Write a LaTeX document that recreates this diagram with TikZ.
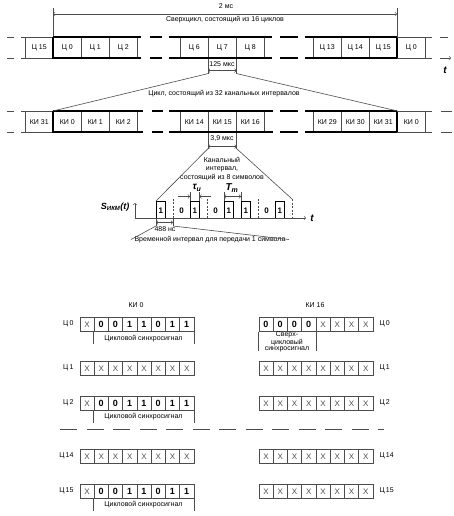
\documentclass[tikz,border=0pt]{standalone}
\usepackage{fontspec}
\setmainfont{Liberation Sans}
\tikzset{
    thinline/.style={draw=black!70, line width=0.6pt},
    thickline/.style={draw=black, line width=1.2pt},
    slot/.style={draw=black!70, line width=0.6pt, minimum width=28pt, minimum height=21pt, inner sep=0pt, anchor=north west},
    cell/.style={draw=black!70, line width=0.6pt, minimum width=14.25pt, minimum height=14pt, inner sep=0pt, anchor=north west},
    xcell/.style={cell, text=black!70, font=\fontsize{8}{8}\selectfont},
    bitcell/.style={cell, font=\bfseries\fontsize{9}{9}\selectfont},
    pulse/.style={draw=black, line width=1pt},
    bound/.style={draw=black!70, line width=0.6pt, dash pattern=on 2pt off 1.5pt},
    bigital/.style={font=\bfseries\itshape\fontsize{10}{10}\selectfont},
    bitlabel/.style={font=\bfseries\fontsize{8}{8}\selectfont}
}
\begin{document}
\begin{tikzpicture}[x=1pt, y=-1pt, font=\fontsize{7}{8.5}\selectfont]
            \useasboundingbox (0,0) rectangle (454,516);

            \coordinate (scl) at (53,14);
            \coordinate (scr) at (397,14);
            \draw[thinline] (53,8) -- (53,37);
            \draw[thinline] (397,8) -- (397,37);
            \draw[thinline, <->] (scl) -- (scr);
            \node (sclen) at (226,6.5) {2 мс};
            \node (sctext) at (225,19.5) {Сверхцикл, состоящий из 16 циклов};

            \node[slot] (c15a) at (25,37) {Ц 15};
            \node[slot] (c0a) at (53,37) {Ц 0};
            \node[slot] (c1a) at (81,37) {Ц 1};
            \node[slot] (c2a) at (109,37) {Ц 2};
            \node[slot] (c6a) at (180,37) {Ц 6};
            \node[slot] (c7a) at (208,37) {Ц 7};
            \node[slot] (c8a) at (236,37) {Ц 8};
            \node[slot] (c13a) at (313,37) {Ц 13};
            \node[slot] (c14a) at (341,37) {Ц 14};
            \node[slot] (c15b) at (369,37) {Ц 15};
            \node[slot] (c0b) at (397,37) {Ц 0};
            \draw[thinline] (7,37) -- (14,37) (21,37) -- (53,37);
            \draw[thinline] (7,58) -- (14,58) (21,58) -- (53,58);
            \draw[thickline] (53,37) -- (141,37) (150,37) -- (162,37) (169,37) -- (272,37) (280,37) -- (298,37) (305,37) -- (397,37);
            \draw[thickline] (53,58) -- (141,58) (150,58) -- (162,58) (169,58) -- (272,58) (280,58) -- (298,58) (305,58) -- (397,58);
            \draw[thickline] (c0a.north west) -- (c0a.south west);
            \draw[thickline] (c0b.north west) -- (c0b.south west);
            \draw[thinline] (397,37) -- (432,37) (440,37) -- (448,37);
            \draw[thinline] (397,58) -- (432,58);
            \draw[thinline, ->] (440,58) -- (451,58);
            \node[bigital] (tc) at (445,70) {t};

            \node[slot] (k31a) at (25,111) {КИ 31};
            \node[slot] (k0a) at (53,111) {КИ 0};
            \node[slot] (k1a) at (81,111) {КИ 1};
            \node[slot] (k2a) at (109,111) {КИ 2};
            \node[slot] (k14a) at (180,111) {КИ 14};
            \node[slot] (k15a) at (208,111) {КИ 15};
            \node[slot] (k16a) at (236,111) {КИ 16};
            \node[slot] (k29a) at (313,111) {КИ 29};
            \node[slot] (k30a) at (341,111) {КИ 30};
            \node[slot] (k31b) at (369,111) {КИ 31};
            \node[slot] (k0b) at (397,111) {КИ 0};
            \draw[thinline] (7,111) -- (14,111) (21,111) -- (53,111);
            \draw[thinline] (7,132) -- (14,132) (21,132) -- (53,132);
            \draw[thickline] (53,111) -- (143,111) (152,111) -- (163,111) (169,111) -- (273,111) (280,111) -- (298,111) (305,111) -- (397,111);
            \draw[thickline] (53,132) -- (143,132) (152,132) -- (163,132) (169,132) -- (273,132) (280,132) -- (298,132) (305,132) -- (397,132);
            \draw[thickline] (k0a.north west) -- (k0a.south west);
            \draw[thickline] (k0b.north west) -- (k0b.south west);
            \draw[thinline] (397,111) -- (432,111) (441,111) -- (452,111);
            \draw[thinline] (397,132) -- (432,132) (441,132) -- (452,132);

            \draw[thinline] (c7a.south west) -- ++(0,15) coordinate (c7l);
            \draw[thinline] (c7a.south east) -- ++(0,15) coordinate (c7r);
            \draw[thinline, <->] ([yshift=-12pt]c7a.south west) -- ([yshift=-12pt]c7a.south east);
            \node (c7len) at (222,64) {125 мкс};
            \draw[thinline] (c7l) -- (k0a.north west);
            \draw[thinline] (c7r) -- (k31b.north east);
            \node (ctext) at (224,94) {Цикл, состоящий из 32 канальных интервалов};

            \draw[thinline] (k15a.south west) -- ++(0,16) coordinate (k15l);
            \draw[thinline] (k15a.south east) -- ++(0,16) coordinate (k15r);
            \draw[thinline, <->] ([yshift=-14pt]k15a.south west) -- ([yshift=-14pt]k15a.south east);
            \node (k15len) at (222,139) {3,9 мкс};
            \node[align=center] (ktext) at (222,169) {Канальный\\интервал,\\состоящий из 8 символов};

            \coordinate (p1) at (156,201);
            \coordinate (pend) at (292,199);
            \draw[thinline] (k15l) -- (p1);
            \draw[thinline] (k15r) -- (pend);

            \draw[thinline, ->] (135,218) -- (306,218);
            \draw[thinline, ->] (135,218) -- (135,203);
            \node[bigital] (tp) at (312,218) {t};
            \node[anchor=east, font=\bfseries\itshape\fontsize{9}{9}\selectfont] (sikm) at (133,207) {S\textsubscript{ИКМ}(t)};

            \draw[pulse] (156,218) -- (156,201) -- (165.5,201) -- (165.5,218);
            \draw[pulse] (190,218) -- (190,201) -- (199.5,201) -- (199.5,218);
            \draw[pulse] (224,218) -- (224,201) -- (233.5,201) -- (233.5,218);
            \draw[pulse] (241,218) -- (241,201) -- (250.5,201) -- (250.5,218);
            \draw[pulse] (275,218) -- (275,201) -- (284.5,201) -- (284.5,218);
            \node[bitlabel] (b0) at (160.75,211) {1};
            \node[bitlabel] (b1) at (181.5,211) {0};
            \node[bitlabel] (b2) at (194.75,211) {1};
            \node[bitlabel] (b3) at (215.5,211) {0};
            \node[bitlabel] (b4) at (228.75,211) {1};
            \node[bitlabel] (b5) at (245.75,211) {1};
            \node[bitlabel] (b6) at (266.5,211) {0};
            \node[bitlabel] (b7) at (279.75,211) {1};
            \draw[bound] (173,218) -- (173,199);
            \draw[bound] (207,218) -- (207,199);
            \draw[bound] (258,218) -- (258,199);
            \draw[bound] (pend) -- (292,218);

            \draw[thinline] (190,201) -- (190,192);
            \draw[thinline] (199.5,201) -- (199.5,192);
            \draw[thinline, ->] (178,196.5) -- (190,196.5);
            \draw[thinline, ->] (211,196.5) -- (199.5,196.5);
            \node[bigital] (tau) at (197,188) {τ\textsubscript{и}};
            \draw[thinline] (224,201) -- (224,192);
            \draw[thinline] (241,201) -- (241,192);
            \draw[thinline, <->] (224,196.5) -- (241,196.5);
            \node[bigital] (tt) at (232,188) {T\textsubscript{т}};

            \draw[thinline] (156,218) -- (156,226) coordinate (s0l);
            \draw[thinline] (173,218) -- (173,226) coordinate (s0r);
            \draw[thinline, <->] (156,222.5) -- (173,222.5);
            \node (s0len) at (165,229.5) {488 нс};
            \node (stext) at (210,239.5) {Временной интервал для передачи 1 символа};
            \draw[thinline] (s0l) -- (stext.west);
            \draw[thinline] (s0r) -- (stext.east);

            \node (lki) at (136,305) {КИ 0};
            \node (rki) at (315,305) {КИ 16};

            \node[anchor=east] (lf0) at (77,324) {Ц\,0};
            \node[xcell] (l0c0) at (79.5 + 0*14.25, 317) {X};
            \node[bitcell] (l0c1) at (79.5 + 1*14.25, 317) {0};
            \node[bitcell] (l0c2) at (79.5 + 2*14.25, 317) {0};
            \node[bitcell] (l0c3) at (79.5 + 3*14.25, 317) {1};
            \node[bitcell] (l0c4) at (79.5 + 4*14.25, 317) {1};
            \node[bitcell] (l0c5) at (79.5 + 5*14.25, 317) {0};
            \node[bitcell] (l0c6) at (79.5 + 6*14.25, 317) {1};
            \node[bitcell] (l0c7) at (79.5 + 7*14.25, 317) {1};
            \draw[thinline] (l0c1.south west) -- ++(0,12);
            \draw[thinline] (l0c7.south east) -- ++(0,12);
            \node (l0sync) at (143.5,339) {Цикловой синхросигнал};

            \node[anchor=east] (lf1) at (77,368) {Ц\,1};
            \node[xcell] (l1c0) at (79.5 + 0*14.25, 361) {X};
            \node[xcell] (l1c1) at (79.5 + 1*14.25, 361) {X};
            \node[xcell] (l1c2) at (79.5 + 2*14.25, 361) {X};
            \node[xcell] (l1c3) at (79.5 + 3*14.25, 361) {X};
            \node[xcell] (l1c4) at (79.5 + 4*14.25, 361) {X};
            \node[xcell] (l1c5) at (79.5 + 5*14.25, 361) {X};
            \node[xcell] (l1c6) at (79.5 + 6*14.25, 361) {X};
            \node[xcell] (l1c7) at (79.5 + 7*14.25, 361) {X};

            \node[anchor=east] (lf2) at (77,403) {Ц\,2};
            \node[xcell] (l2c0) at (79.5 + 0*14.25, 396) {X};
            \node[bitcell] (l2c1) at (79.5 + 1*14.25, 396) {0};
            \node[bitcell] (l2c2) at (79.5 + 2*14.25, 396) {0};
            \node[bitcell] (l2c3) at (79.5 + 3*14.25, 396) {1};
            \node[bitcell] (l2c4) at (79.5 + 4*14.25, 396) {1};
            \node[bitcell] (l2c5) at (79.5 + 5*14.25, 396) {0};
            \node[bitcell] (l2c6) at (79.5 + 6*14.25, 396) {1};
            \node[bitcell] (l2c7) at (79.5 + 7*14.25, 396) {1};
            \draw[thinline] (l2c1.south west) -- ++(0,12);
            \draw[thinline] (l2c7.south east) -- ++(0,12);
            \node (l2sync) at (143.5,417) {Цикловой синхросигнал};

            \draw[thinline, dash pattern=on 17pt off 9.5pt] (60,429) -- (384,429);

            \node[anchor=east] (lf14) at (77,456) {Ц\,14};
            \node[xcell] (l14c0) at (79.5 + 0*14.25, 449) {X};
            \node[xcell] (l14c1) at (79.5 + 1*14.25, 449) {X};
            \node[xcell] (l14c2) at (79.5 + 2*14.25, 449) {X};
            \node[xcell] (l14c3) at (79.5 + 3*14.25, 449) {X};
            \node[xcell] (l14c4) at (79.5 + 4*14.25, 449) {X};
            \node[xcell] (l14c5) at (79.5 + 5*14.25, 449) {X};
            \node[xcell] (l14c6) at (79.5 + 6*14.25, 449) {X};
            \node[xcell] (l14c7) at (79.5 + 7*14.25, 449) {X};

            \node[anchor=east] (lf15) at (77,491) {Ц\,15};
            \node[xcell] (l15c0) at (79.5 + 0*14.25, 484) {X};
            \node[bitcell] (l15c1) at (79.5 + 1*14.25, 484) {0};
            \node[bitcell] (l15c2) at (79.5 + 2*14.25, 484) {0};
            \node[bitcell] (l15c3) at (79.5 + 3*14.25, 484) {1};
            \node[bitcell] (l15c4) at (79.5 + 4*14.25, 484) {1};
            \node[bitcell] (l15c5) at (79.5 + 5*14.25, 484) {0};
            \node[bitcell] (l15c6) at (79.5 + 6*14.25, 484) {1};
            \node[bitcell] (l15c7) at (79.5 + 7*14.25, 484) {1};
            \draw[thinline] (l15c1.south west) -- ++(0,12);
            \draw[thinline] (l15c7.south east) -- ++(0,12);
            \node (l15sync) at (143.5,505) {Цикловой синхросигнал};

            \node[anchor=west] (rf0) at (376,324) {Ц\,0};
            \node[bitcell] (r0c0) at (258.5 + 0*14.25, 317) {0};
            \node[bitcell] (r0c1) at (258.5 + 1*14.25, 317) {0};
            \node[bitcell] (r0c2) at (258.5 + 2*14.25, 317) {0};
            \node[bitcell] (r0c3) at (258.5 + 3*14.25, 317) {0};
            \node[xcell] (r0c4) at (258.5 + 4*14.25, 317) {X};
            \node[xcell] (r0c5) at (258.5 + 5*14.25, 317) {X};
            \node[xcell] (r0c6) at (258.5 + 6*14.25, 317) {X};
            \node[xcell] (r0c7) at (258.5 + 7*14.25, 317) {X};
            \draw[thinline] (r0c0.south west) -- ++(0,19);
            \draw[thinline] (r0c3.south east) -- ++(0,19);
            \node[align=center, font=\fontsize{7}{6.4}\selectfont] (r0sync) at (287,342) {Сверх-\\цикловый\\синхросигнал};

            \node[anchor=west] (rf1) at (376,368) {Ц\,1};
            \node[xcell] (r1c0) at (258.5 + 0*14.25, 361) {X};
            \node[xcell] (r1c1) at (258.5 + 1*14.25, 361) {X};
            \node[xcell] (r1c2) at (258.5 + 2*14.25, 361) {X};
            \node[xcell] (r1c3) at (258.5 + 3*14.25, 361) {X};
            \node[xcell] (r1c4) at (258.5 + 4*14.25, 361) {X};
            \node[xcell] (r1c5) at (258.5 + 5*14.25, 361) {X};
            \node[xcell] (r1c6) at (258.5 + 6*14.25, 361) {X};
            \node[xcell] (r1c7) at (258.5 + 7*14.25, 361) {X};

            \node[anchor=west] (rf2) at (376,403) {Ц\,2};
            \node[xcell] (r2c0) at (258.5 + 0*14.25, 396) {X};
            \node[xcell] (r2c1) at (258.5 + 1*14.25, 396) {X};
            \node[xcell] (r2c2) at (258.5 + 2*14.25, 396) {X};
            \node[xcell] (r2c3) at (258.5 + 3*14.25, 396) {X};
            \node[xcell] (r2c4) at (258.5 + 4*14.25, 396) {X};
            \node[xcell] (r2c5) at (258.5 + 5*14.25, 396) {X};
            \node[xcell] (r2c6) at (258.5 + 6*14.25, 396) {X};
            \node[xcell] (r2c7) at (258.5 + 7*14.25, 396) {X};

            \node[anchor=west] (rf14) at (376,456) {Ц\,14};
            \node[xcell] (r14c0) at (258.5 + 0*14.25, 449) {X};
            \node[xcell] (r14c1) at (258.5 + 1*14.25, 449) {X};
            \node[xcell] (r14c2) at (258.5 + 2*14.25, 449) {X};
            \node[xcell] (r14c3) at (258.5 + 3*14.25, 449) {X};
            \node[xcell] (r14c4) at (258.5 + 4*14.25, 449) {X};
            \node[xcell] (r14c5) at (258.5 + 5*14.25, 449) {X};
            \node[xcell] (r14c6) at (258.5 + 6*14.25, 449) {X};
            \node[xcell] (r14c7) at (258.5 + 7*14.25, 449) {X};

            \node[anchor=west] (rf15) at (376,491) {Ц\,15};
            \node[xcell] (r15c0) at (258.5 + 0*14.25, 484) {X};
            \node[xcell] (r15c1) at (258.5 + 1*14.25, 484) {X};
            \node[xcell] (r15c2) at (258.5 + 2*14.25, 484) {X};
            \node[xcell] (r15c3) at (258.5 + 3*14.25, 484) {X};
            \node[xcell] (r15c4) at (258.5 + 4*14.25, 484) {X};
            \node[xcell] (r15c5) at (258.5 + 5*14.25, 484) {X};
            \node[xcell] (r15c6) at (258.5 + 6*14.25, 484) {X};
            \node[xcell] (r15c7) at (258.5 + 7*14.25, 484) {X};
\end{tikzpicture}
\end{document}
